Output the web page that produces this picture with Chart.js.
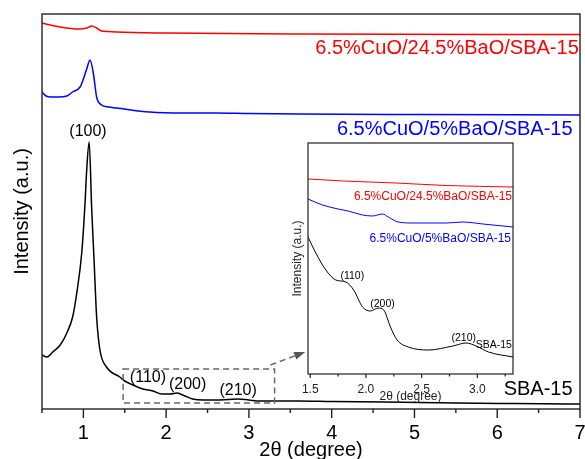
<!DOCTYPE html>
<html>
<head>
<meta charset="utf-8">
<script src="https://cdn.jsdelivr.net/npm/chart.js@4"></script>
<style>
  html, body { margin: 0; padding: 0; background: #fff; }
  #wrap { position: relative; width: 585px; height: 459px; }
  #main { position: absolute; left: 0; top: 0; }
  #inset { position: absolute; left: 284px; top: 130px; }
</style>
</head>
<body>
<div id="wrap">
  <canvas id="main" width="585" height="459"></canvas>
  <canvas id="inset" width="240" height="275"></canvas>
</div>
<script>
// series names
const seriesNames = ['6.5%CuO/24.5%BaO/SBA-15', '6.5%CuO/5%BaO/SBA-15', 'SBA-15'];
const seriesColors = ['#ff0000', '#0000ff', '#000000'];

// main pattern, 2theta 0.5 - 7 (intensity in arbitrary units, curves stacked)
const redX = [0.5, 0.6, 0.72, 0.85, 0.95, 1.04, 1.10, 1.16, 1.22, 1.3, 1.4, 2.0, 3.6, 7.0];
const redY = [386, 384, 382, 380.5, 380, 381, 383, 381, 378, 377.5, 377, 376, 375, 374.5];

const blueX = [0.5, 0.55, 0.6, 0.7, 0.8, 0.87, 0.96, 1.0, 1.04, 1.08, 1.12, 1.16, 1.22, 1.3, 1.4, 1.8, 2.2, 2.6, 3.0, 3.6, 5.0, 7.0];
const blueY = [317, 313, 312, 312, 313, 317, 322, 330, 340, 349, 336, 312, 304, 302, 301, 297, 296, 296, 295.5, 295, 294.5, 294];

const sbaX = [0.5, 0.56, 0.63, 0.72, 0.8, 0.87, 0.92, 0.98, 1.02, 1.04, 1.07, 1.10, 1.13, 1.16, 1.20, 1.28, 1.44, 1.5, 1.6, 1.72, 1.84, 1.95, 2.05, 2.13, 2.2, 2.32, 2.45, 2.6, 2.75, 2.87, 3.0, 3.13, 3.6, 4.0, 4.64, 5.5, 6.2, 7.0];
const sbaY = [54, 52, 57, 64, 76, 92, 116, 156, 206, 239, 267, 201, 147, 92, 59, 42, 32, 28, 24, 20, 18, 15, 15, 16, 14, 10, 9, 9, 9.5, 10, 9, 8, 8, 7.5, 7, 6, 5.5, 5];

// inset, 2theta 1.48 - 3.32
const inRedX = [1.48, 1.8, 2.27, 2.72, 3.32];
const inRedY = [195, 193, 191, 188.5, 187];

const inBlueX = [1.48, 1.61, 1.75, 1.84, 1.97, 2.06, 2.15, 2.20, 2.29, 2.42, 2.72, 2.87, 3.05, 3.32];
const inBlueY = [175, 169, 165, 163, 159, 158, 160, 157, 152, 151, 151, 152, 150, 147];

const inSbaX = [1.48, 1.55, 1.64, 1.73, 1.82, 1.89, 1.97, 2.04, 2.11, 2.16, 2.22, 2.28, 2.38, 2.56, 2.78, 2.90, 2.99, 3.10, 3.32];
const inSbaY = [137, 121, 104, 94, 92, 84, 67, 63, 66, 64, 47, 34, 27, 24, 28, 31, 28, 22, 17];

// peak labels (hkl)
const hklText = ['(100)', '(110)', '(200)', '(210)'];
const hklMainX = [1.056, 1.78, 2.26, 2.87];
const hklMainY = [277, 31, 24, 18];
const hklInX = [null, 1.878, 2.149, 2.878];
const hklInY = [null, 98, 70, 36];

const FONT = "'Liberation Sans', Arial, sans-serif";

function pts(xs, ys) {
    return xs.map((x, i) => ({ x: x, y: ys[i] }));
}

function lineSet(xs, ys, color, width) {
    return {
        data: pts(xs, ys),
        borderColor: color,
        borderWidth: width,
        pointRadius: 0,
        fill: false,
        cubicInterpolationMode: 'monotone'
    };
}

function text(ctx, str, x, y, size, color, align) {
    ctx.save();
    ctx.font = size + 'px ' + FONT;
    ctx.fillStyle = color;
    ctx.textAlign = align || 'center';
    ctx.textBaseline = 'middle';
    ctx.fillText(str, x, y);
    ctx.restore();
}

function isMultiple(v, step) {
    return Math.abs(v / step - Math.round(v / step)) < 1e-6;
}

function drawFrame(chart, width, majorLen, minorLen) {
    const { ctx, chartArea: a, scales: { x } } = chart;
    const majorStep = x.options.ticks.majorStep;
    ctx.save();
    ctx.strokeStyle = '#222';
    ctx.lineWidth = width;
    ctx.strokeRect(a.left, a.top, a.right - a.left, a.bottom - a.top);
    ctx.beginPath();
    x.ticks.forEach(t => {
        const px = x.getPixelForValue(t.value);
        ctx.moveTo(px, a.bottom);
        ctx.lineTo(px, a.bottom + (isMultiple(t.value, majorStep) ? majorLen : minorLen));
    });
    ctx.stroke();
    ctx.restore();
}

function noPad(s) {
    s.paddingLeft = 0;
    s.paddingRight = 0;
}

const mainDecor = {
    id: 'mainDecor',
    afterDraw(chart) {
        const { ctx, scales: { x, y } } = chart;
        drawFrame(chart, 1.4, 9, 4);

        // zoom box + arrow
        ctx.save();
        ctx.strokeStyle = '#666';
        ctx.lineWidth = 1.5;
        ctx.setLineDash([6, 4]);
        const bx0 = x.getPixelForValue(1.48), bx1 = x.getPixelForValue(3.31);
        const by0 = y.getPixelForValue(40), by1 = y.getPixelForValue(6);
        ctx.strokeRect(bx0, by0, bx1 - bx0, by1 - by0);
        const ax0 = x.getPixelForValue(3.26), ay0 = y.getPixelForValue(44);
        const ax1 = x.getPixelForValue(3.68), ay1 = y.getPixelForValue(57);
        const ang = Math.atan2(ay1 - ay0, ax1 - ax0);
        ctx.beginPath();
        ctx.moveTo(ax0, ay0);
        ctx.lineTo(ax1 - 8 * Math.cos(ang), ay1 - 8 * Math.sin(ang));
        ctx.stroke();
        ctx.setLineDash([]);
        ctx.fillStyle = '#555';
        ctx.beginPath();
        ctx.moveTo(ax1, ay1);
        ctx.lineTo(ax1 - 11 * Math.cos(ang) + 4 * Math.sin(ang), ay1 - 11 * Math.sin(ang) - 4 * Math.cos(ang));
        ctx.lineTo(ax1 - 11 * Math.cos(ang) - 4 * Math.sin(ang), ay1 - 11 * Math.sin(ang) + 4 * Math.cos(ang));
        ctx.closePath();
        ctx.fill();
        ctx.restore();

        hklText.forEach((t, i) => {
            text(ctx, t, x.getPixelForValue(hklMainX[i]), y.getPixelForValue(hklMainY[i]), 16, '#000');
        });
        text(ctx, seriesNames[0], x.getPixelForValue(6.985), y.getPixelForValue(361), 20, seriesColors[0], 'right');
        text(ctx, seriesNames[1], x.getPixelForValue(6.91), y.getPixelForValue(280), 20, seriesColors[1], 'right');
        text(ctx, seriesNames[2], x.getPixelForValue(6.91), y.getPixelForValue(20), 20, seriesColors[2], 'right');
    }
};

const insetDecor = {
    id: 'insetDecor',
    afterDraw(chart) {
        const { ctx, scales: { x, y } } = chart;
        drawFrame(chart, 1.2, 4, 2.5);
        hklText.forEach((t, i) => {
            if (hklInX[i] === null) return;
            text(ctx, t, x.getPixelForValue(hklInX[i]), y.getPixelForValue(hklInY[i]), 10.5, '#000');
        });
        text(ctx, seriesNames[2], x.getPixelForValue(3.31), y.getPixelForValue(29), 10.5, '#000', 'right');
        text(ctx, seriesNames[0], x.getPixelForValue(3.311), y.getPixelForValue(177), 12, seriesColors[0], 'right');
        text(ctx, seriesNames[1], x.getPixelForValue(3.302), y.getPixelForValue(135), 12, seriesColors[1], 'right');
    }
};

new Chart(document.getElementById('main'), {
    type: 'line',
    data: {
        datasets: [
            lineSet(redX, redY, seriesColors[0], 1.5),
            lineSet(blueX, blueY, seriesColors[1], 1.5),
            lineSet(sbaX, sbaY, seriesColors[2], 1.5)
        ]
    },
    options: {
        responsive: false,
        animation: false,
        layout: { padding: { left: 10, top: 14, right: 5, bottom: 0 } },
        plugins: { legend: { display: false }, tooltip: { enabled: false } },
        scales: {
            x: {
                type: 'linear',
                min: 0.5,
                max: 7,
                afterFit: s => { s.height = 50; noPad(s); },
                grid: { display: false, drawTicks: false },
                border: { display: false },
                ticks: {
                    stepSize: 0.5,
                    majorStep: 1,
                    autoSkip: false,
                    maxRotation: 0,
                    padding: 12,
                    color: '#000',
                    font: { family: FONT, size: 20 },
                    callback: v => Number.isInteger(v) ? String(v) : ''
                },
                title: {
                    display: true,
                    text: '2θ (degree)',
                    color: '#000',
                    font: { family: FONT, size: 20 },
                    padding: { top: 0, bottom: -3 }
                }
            },
            y: {
                min: 0,
                max: 395,
                afterFit: s => { s.width = 32; },
                grid: { display: false, drawTicks: false },
                border: { display: false },
                ticks: { display: false },
                title: {
                    display: true,
                    text: 'Intensity (a.u.)',
                    color: '#000',
                    font: { family: FONT, size: 20 },
                    padding: 0
                }
            }
        }
    },
    plugins: [mainDecor]
});

new Chart(document.getElementById('inset'), {
    type: 'line',
    data: {
        datasets: [
            lineSet(inRedX, inRedY, seriesColors[0], 1),
            lineSet(inBlueX, inBlueY, seriesColors[1], 1),
            lineSet(inSbaX, inSbaY, seriesColors[2], 1)
        ]
    },
    options: {
        responsive: false,
        animation: false,
        layout: { padding: { left: 6, top: 13, right: 11, bottom: 0 } },
        plugins: { legend: { display: false }, tooltip: { enabled: false } },
        scales: {
            x: {
                type: 'linear',
                min: 1.48,
                max: 3.32,
                afterFit: s => { s.height = 31; noPad(s); },
                grid: { display: false, drawTicks: false },
                border: { display: false },
                afterBuildTicks: s => {
                    s.ticks = [1.5, 1.75, 2.0, 2.25, 2.5, 2.75, 3.0, 3.25].map(v => ({ value: v }));
                },
                ticks: {
                    majorStep: 0.5,
                    autoSkip: false,
                    maxRotation: 0,
                    padding: 8,
                    color: '#222',
                    font: { family: FONT, size: 12 },
                    callback: v => isMultiple(v, 0.5) ? v.toFixed(1) : ''
                },
                title: {
                    display: true,
                    text: '2θ (degree)',
                    color: '#222',
                    font: { family: FONT, size: 12 },
                    padding: { top: 0, bottom: 1 }
                }
            },
            y: {
                min: 0,
                max: 231,
                afterFit: s => { s.width = 18; },
                grid: { display: false, drawTicks: false },
                border: { display: false },
                ticks: { display: false },
                title: {
                    display: true,
                    text: 'Intensity (a.u.)',
                    color: '#222',
                    font: { family: FONT, size: 12 },
                    padding: 0
                }
            }
        }
    },
    plugins: [insetDecor]
});
</script>
</body>
</html>
